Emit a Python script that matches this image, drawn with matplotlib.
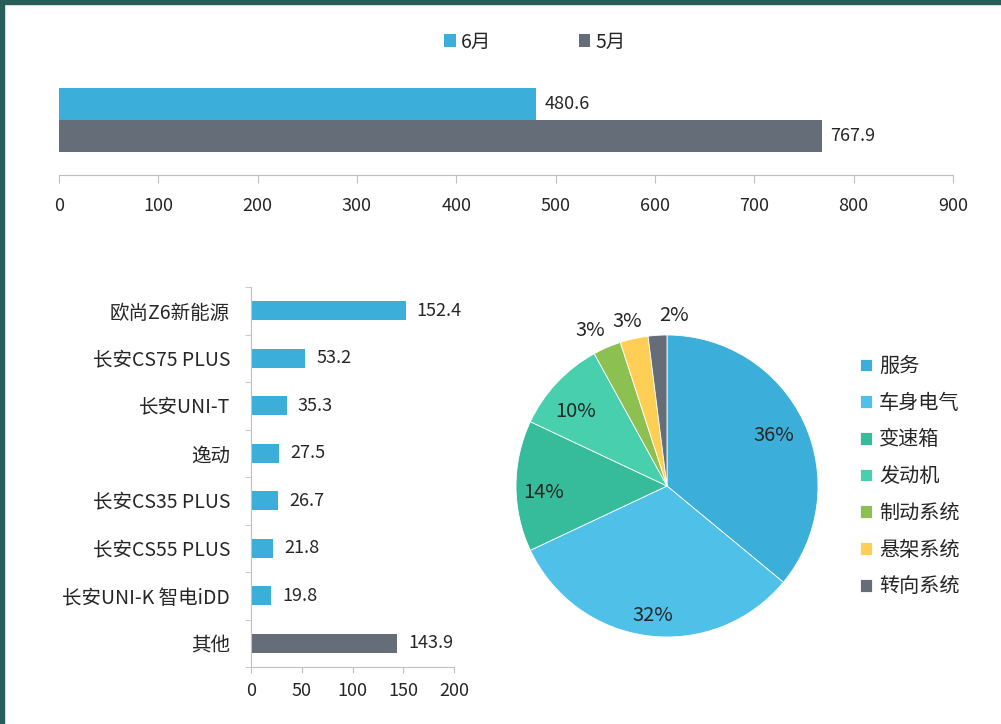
import numpy as np
import matplotlib
matplotlib.use('Agg')
from matplotlib import pyplot as plt
from matplotlib.patches import Rectangle
from matplotlib.ticker import MultipleLocator, FixedLocator

plt.rcParams['font.family'] = ['Noto Sans CJK SC', 'DejaVu Sans']
plt.rcParams['text.color'] = '#262626'
plt.rcParams['xtick.color'] = '#BFBFBF'
plt.rcParams['ytick.color'] = '#BFBFBF'
plt.rcParams['xtick.labelcolor'] = '#262626'
plt.rcParams['ytick.labelcolor'] = '#262626'

# top chart: month totals
months = ['6月', '5月']
month_values = [480.6, 767.9]

# bottom left: models
models = ['欧尚Z6新能源', '长安CS75 PLUS', '长安UNI-T', '逸动', '长安CS35 PLUS',
          '长安CS55 PLUS', '长安UNI-K 智电iDD', '其他']
model_values = [152.4, 53.2, 35.3, 27.5, 26.7, 21.8, 19.8, 143.9]

# pie: fault categories
parts = ['服务', '车身电气', '变速箱', '发动机', '制动系统', '悬架系统', '转向系统']
part_shares = [36, 32, 14, 10, 3, 3, 2]

blue = '#3BAFDA'
gray = '#656D78'
pie_colors = ['#3BAFDA', '#4FC1E9', '#37BC9B', '#48CFAD', '#8CC152', '#FFCE54', '#656D78']
axis_col = '#BFBFBF'

W, H = 1001, 724
fig = plt.figure(figsize=(W / 100, H / 100), dpi=100)
fig.patch.set_facecolor('white')


def px(left, top, right, bottom):
    return [left / W, 1 - bottom / H, (right - left) / W, (bottom - top) / H]


# ---- top chart
ax1 = fig.add_axes(px(59, 88, 953, 175))
ax1.barh(1, month_values[0], height=1, color=blue, label=months[0])
ax1.barh(0, month_values[1], height=1, color=gray, label=months[1])
for y, v in zip([1, 0], month_values):
    ax1.annotate(f'{v}', (v, y), xytext=(6, 0), textcoords='offset points',
                 va='center', ha='left', fontsize=13)
ax1.set_xlim(0, 900)
ax1.set_ylim(-1.22, 1.5)
ax1.xaxis.set_major_locator(MultipleLocator(100))
ax1.set_yticks([])
for s in ['top', 'right', 'left']:
    ax1.spines[s].set_visible(False)
ax1.spines['bottom'].set_color(axis_col)
ax1.tick_params(axis='x', length=6, pad=9.5, labelsize=13)
fig.legend(loc='center', bbox_to_anchor=(535 / W, 1 - 42 / H), ncol=2, frameon=False,
           fontsize=14, handlelength=0.6, handleheight=0.6, handletextpad=0.25,
           columnspacing=4.5, borderpad=0)

# ---- bottom left chart
ax2 = fig.add_axes(px(251, 287, 454, 667))
ypos = np.arange(len(models))
bar_cols = [blue] * (len(models) - 1) + [gray]
ax2.barh(ypos, model_values, height=0.39, color=bar_cols)
for y, v in zip(ypos, model_values):
    ax2.annotate(f'{v}', (v, y), xytext=(8, 0), textcoords='offset points',
                 va='center', ha='left', fontsize=13)
ax2.set_xlim(0, 200)
ax2.set_ylim(len(models) - 0.5, -0.5)
ax2.xaxis.set_major_locator(MultipleLocator(50))
ax2.set_yticks(ypos)
ax2.set_yticklabels(models)
ax2.yaxis.set_minor_locator(FixedLocator(np.arange(-0.5, len(models), 1)))
ax2.tick_params(axis='y', which='major', length=0, pad=15, labelsize=14)
ax2.tick_params(axis='y', which='minor', length=4.5)
ax2.tick_params(axis='x', length=4.5, pad=6.5, labelsize=13)
for s in ['top', 'right']:
    ax2.spines[s].set_visible(False)
ax2.spines['left'].set_color(axis_col)
ax2.spines['bottom'].set_color(axis_col)

# ---- pie
cx, cy, r = 667, 486, 151
half = r * 1.25
ax3 = fig.add_axes(px(cx - half, cy - half, cx + half, cy + half))
wedges, _ = ax3.pie(part_shares, colors=pie_colors, startangle=90, counterclock=False,
                    wedgeprops=dict(edgecolor='white', linewidth=0.6))
ax3.set_xlim(-1.25, 1.25)
ax3.set_ylim(-1.25, 1.25)
label_dist = [0.78, 0.86, 0.82, 0.78, 1.15, 1.12, 1.13]
label_shift = [0, 1, 3, 4, 3, 1, -6]
for w, share, d, sh in zip(wedges, part_shares, label_dist, label_shift):
    ang = np.deg2rad((w.theta1 + w.theta2) / 2 + sh)
    ax3.text(d * np.cos(ang), d * np.sin(ang), f'{share}%', ha='center', va='center',
             fontsize=14.5)
ax3.legend(wedges, parts, loc='upper left', bbox_to_anchor=(860 / W, 1 - 356 / H),
           bbox_transform=fig.transFigure, frameon=False, fontsize=14.5,
           handlelength=0.6, handleheight=0.6, handletextpad=0.35,
           labelspacing=0.78, borderpad=0, borderaxespad=0)

# frame decoration
fig.patches.append(Rectangle((0, 1 - 4 / H), 1, 4 / H, transform=fig.transFigure,
                             color='#285E59', zorder=10))
fig.patches.append(Rectangle((0, 0), 4 / W, 1, transform=fig.transFigure,
                             color='#285E59', zorder=10))

fig.savefig('out.png', dpi=100)
